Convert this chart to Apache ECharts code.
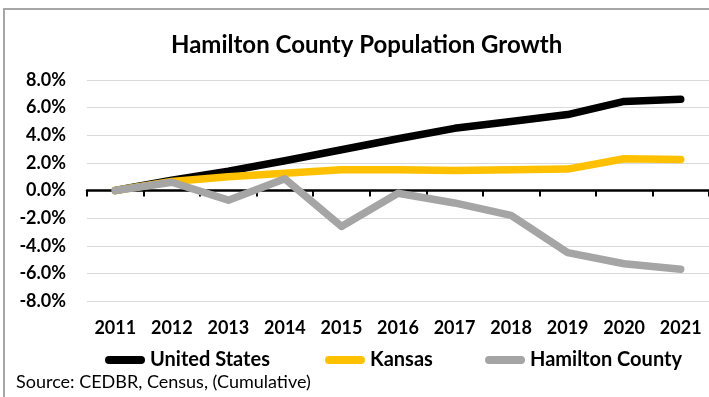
<!DOCTYPE html>
<html><head><meta charset="utf-8">
<script src="https://cdn.jsdelivr.net/npm/echarts@6/dist/echarts.min.js"></script>
<style>html,body{margin:0;padding:0;background:#fff}#c{width:709px;height:397px}</style>
</head><body><div id="c"></div>
<script>
const years = ['2011','2012','2013','2014','2015','2016','2017','2018','2019','2020','2021'];
const unitedStates = [0, 0.75, 1.4, 2.15, 2.95, 3.75, 4.5, 5.0, 5.5, 6.45, 6.6];
const kansas = [0, 0.65, 1.0, 1.25, 1.5, 1.5, 1.45, 1.5, 1.55, 2.3, 2.25];
const hamiltonCounty = [0, 0.6, -0.7, 0.85, -2.6, -0.2, -0.9, -1.8, -4.5, -5.3, -5.7];
const yMin = -8, yMax = 8, yStep = 2;

const F = 'Lato';
const iconPath = 'path://M4,0 L36,0 A4,4 0 0 1 36,8 L4,8 A4,4 0 0 1 4,0 Z';
const legendBase = {top: 345, itemWidth: 40, itemHeight: 8, icon: iconPath,
  textStyle: {fontFamily: F, fontWeight: 'bold', fontSize: 20, color: '#000'}};

const chart = echarts.init(document.getElementById('c'), null, {renderer: 'canvas'});
chart.setOption({
  backgroundColor: '#fff',
  animation: false,
  title: {text: 'Hamilton County Population Growth', left: 166, top: 28,
    textStyle: {fontFamily: F, fontWeight: 'bold', fontSize: 24, color: '#000'}},
  graphic: [
    {type: 'rect', shape: {x: 4, y: 9, width: 800, height: 500}, style: {fill: 'none', stroke: '#a6a6a6', lineWidth: 2}, silent: true},
    {type: 'text', left: 16, top: 373, style: {text: 'Source: CEDBR, Census, (Cumulative)', fontFamily: F, fontSize: 18, fill: '#000'}}
  ],
  legend: [
    Object.assign({}, legendBase, {left: 100, data: ['United States']}),
    Object.assign({}, legendBase, {left: 320, data: ['Kansas']}),
    Object.assign({}, legendBase, {left: 480, data: ['Hamilton County']})
  ],
  grid: {left: 87, right: 0, top: 80, bottom: 96, containLabel: false},
  xAxis: [
    {type: 'category', data: years, position: 'bottom', boundaryGap: true,
      axisLine: {onZero: true, lineStyle: {color: '#000', width: 2.5}},
      axisTick: {show: true, length: 6, lineStyle: {color: '#000', width: 2}},
      axisLabel: {show: false}, splitLine: {show: false}},
    {type: 'category', data: years, position: 'bottom', boundaryGap: true,
      axisLine: {show: false, onZero: false}, axisTick: {show: false},
      axisLabel: {margin: 18, fontFamily: F, fontWeight: 'bold', fontSize: 18, color: '#000'},
      splitLine: {show: false}}
  ],
  yAxis: {type: 'value', min: yMin, max: yMax, interval: yStep,
    axisLine: {show: false}, axisTick: {show: false},
    axisLabel: {margin: 21, fontFamily: F, fontWeight: 'bold', fontSize: 18, color: '#000',
      formatter: v => v.toFixed(1) + '%'},
    splitLine: {lineStyle: {color: '#d9d9d9', width: 1}}},
  series: [
    {name: 'United States', type: 'line', data: unitedStates, symbol: 'none', color: '#000000',
      lineStyle: {width: 7.5, cap: 'round', join: 'round'}},
    {name: 'Kansas', type: 'line', data: kansas, symbol: 'none', color: '#FFC000',
      lineStyle: {width: 7.5, cap: 'round', join: 'round'}},
    {name: 'Hamilton County', type: 'line', data: hamiltonCounty, symbol: 'none', color: '#A5A5A5',
      lineStyle: {width: 7.5, cap: 'round', join: 'round'}}
  ]
});
</script></body></html>
